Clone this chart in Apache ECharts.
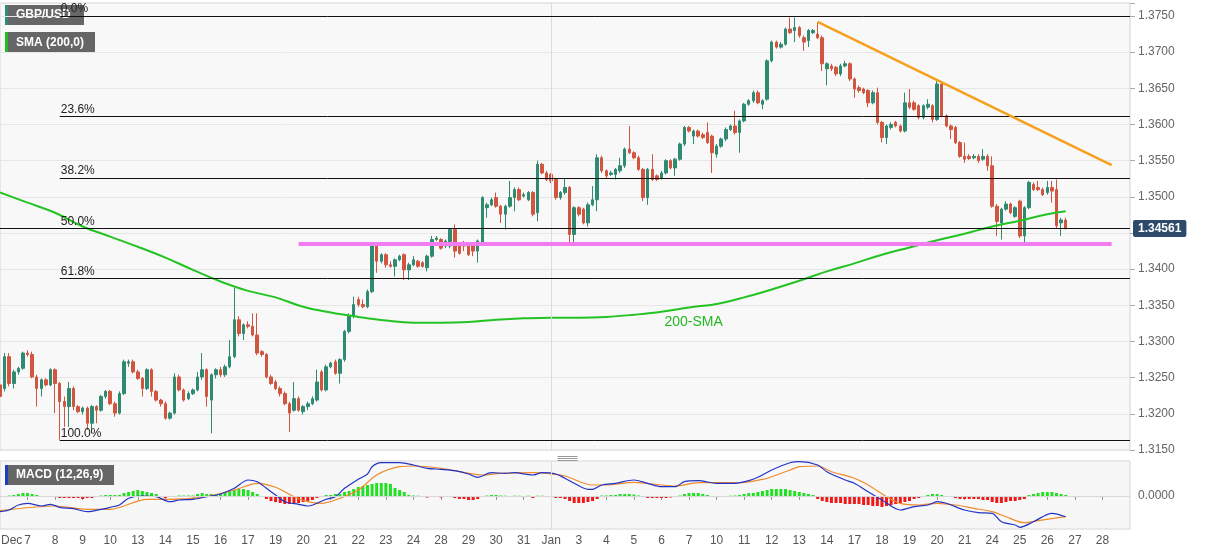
<!DOCTYPE html>
<html><head><meta charset="utf-8">
<script src="https://cdn.jsdelivr.net/npm/echarts/dist/echarts.min.js"></script>
<style>html,body{margin:0;padding:0;background:#fff}#c{width:1207px;height:555px}</style>
</head><body><div id="c"></div>
<script>
// ---- tick labels (one per trading day, 6 four-hour candles per day) ----
const dayLabels = ['7','8','9','10','13','14','15','16','17','19','20','21','22','23','24','28','29','30','31','Jan','3','4','5','6','7','10','11','12','13','14','17','18','19','20','21','24','25','26','27','28'];
const monthLabel = 'Dec';
const candlesPerDay = 6;
const slotCount = 247;

// ---- GBP/USD 4H candles ----
const open = [1.3240,1.3235,1.3279,1.3242,1.3258,1.3263,1.3284,1.3282,1.3251,1.3235,
1.3247,1.3240,1.3261,1.3242,1.3217,1.3210,1.3235,1.3210,1.3203,1.3208,
1.3187,1.3210,1.3205,1.3224,1.3231,1.3214,1.3201,1.3228,1.3270,1.3272,
1.3258,1.3249,1.3235,1.3261,1.3231,1.3219,1.3214,1.3194,1.3201,1.3251,
1.3233,1.3221,1.3228,1.3233,1.3251,1.3261,1.3219,1.3254,1.3261,1.3254,
1.3265,1.3279,1.3330,1.3311,1.3323,1.3321,1.3309,1.3286,1.3282,1.3251,
1.3244,1.3235,1.3228,1.3214,1.3205,1.3221,1.3203,1.3210,1.3214,1.3219,
1.3258,1.3233,1.3265,1.3272,1.3256,1.3275,1.3314,1.3335,1.3358,1.3351,
1.3348,1.3369,1.3434,1.3411,1.3420,1.3406,1.3404,1.3413,1.3420,1.3399,
1.3406,1.3411,1.3409,1.3402,1.3418,1.3441,1.3441,1.3432,1.3432,1.3455,
1.3432,1.3436,1.3434,1.3432,1.3425,1.3436,1.3485,1.3489,1.3499,1.3487,
1.3476,1.3487,1.3499,1.3510,1.3501,1.3496,1.3506,1.3478,1.3545,1.3533,
1.3531,1.3524,1.3499,1.3506,1.3513,1.3448,1.3485,1.3483,1.3464,1.3489,
1.3496,1.3554,1.3536,1.3531,1.3531,1.3536,1.3543,1.3566,1.3561,1.3554,
1.3538,1.3499,1.3538,1.3529,1.3526,1.3533,1.3550,1.3540,1.3552,1.3573,
1.3596,1.3584,1.3591,1.3586,1.3589,1.3584,1.3559,1.3570,1.3580,1.3593,
1.3598,1.3589,1.3605,1.3628,1.3633,1.3644,1.3628,1.3635,1.3688,1.3714,
1.3707,1.3711,1.3732,1.3730,1.3734,1.3720,1.3716,1.3727,1.3725,1.3720,
1.3677,1.3681,1.3679,1.3670,1.3681,1.3684,1.3663,1.3651,1.3649,1.3647,
1.3630,1.3644,1.3603,1.3582,1.3596,1.3603,1.3598,1.3591,1.3630,1.3630,
1.3626,1.3610,1.3624,1.3626,1.3607,1.3656,1.3612,1.3598,1.3596,1.3575,
1.3556,1.3556,1.3554,1.3556,1.3552,1.3556,1.3543,1.3487,1.3464,1.3483,
1.3490,1.3473,1.3494,1.3446,1.3485,1.3517,1.3513,1.3510,1.3506,1.3513,
1.3510,1.3464,1.3468];
const close = [1.3224,1.3279,1.3242,1.3258,1.3263,1.3284,1.3282,1.3251,1.3235,1.3247,
1.3240,1.3261,1.3242,1.3217,1.3210,1.3235,1.3210,1.3203,1.3208,1.3187,
1.3210,1.3205,1.3224,1.3231,1.3214,1.3201,1.3228,1.3272,1.3272,1.3258,
1.3249,1.3235,1.3261,1.3231,1.3219,1.3214,1.3194,1.3201,1.3251,1.3233,
1.3219,1.3228,1.3233,1.3251,1.3261,1.3224,1.3254,1.3261,1.3254,1.3265,
1.3279,1.3330,1.3311,1.3323,1.3321,1.3309,1.3284,1.3282,1.3251,1.3242,
1.3235,1.3228,1.3214,1.3201,1.3221,1.3205,1.3210,1.3214,1.3221,1.3244,
1.3233,1.3265,1.3270,1.3256,1.3275,1.3314,1.3335,1.3351,1.3351,1.3348,
1.3369,1.3434,1.3411,1.3420,1.3406,1.3404,1.3413,1.3418,1.3399,1.3406,
1.3413,1.3404,1.3404,1.3418,1.3441,1.3443,1.3429,1.3439,1.3455,1.3425,
1.3422,1.3432,1.3420,1.3425,1.3439,1.3499,1.3489,1.3496,1.3487,1.3476,
1.3487,1.3499,1.3510,1.3496,1.3503,1.3506,1.3476,1.3545,1.3533,1.3524,
1.3522,1.3499,1.3506,1.3513,1.3448,1.3485,1.3476,1.3464,1.3489,1.3496,
1.3554,1.3536,1.3529,1.3533,1.3538,1.3543,1.3566,1.3561,1.3554,1.3538,
1.3499,1.3538,1.3524,1.3524,1.3533,1.3550,1.3540,1.3552,1.3573,1.3596,
1.3591,1.3591,1.3584,1.3582,1.3575,1.3561,1.3570,1.3580,1.3593,1.3598,
1.3589,1.3605,1.3628,1.3633,1.3644,1.3630,1.3633,1.3688,1.3714,1.3707,
1.3711,1.3732,1.3727,1.3734,1.3723,1.3714,1.3730,1.3730,1.3720,1.3684,
1.3684,1.3677,1.3670,1.3681,1.3684,1.3663,1.3649,1.3647,1.3644,1.3630,
1.3644,1.3603,1.3582,1.3598,1.3600,1.3598,1.3591,1.3630,1.3624,1.3621,
1.3610,1.3626,1.3628,1.3607,1.3656,1.3612,1.3598,1.3593,1.3575,1.3556,
1.3552,1.3553,1.3556,1.3550,1.3556,1.3543,1.3487,1.3466,1.3483,1.3490,
1.3478,1.3485,1.3446,1.3485,1.3520,1.3510,1.3510,1.3503,1.3513,1.3508,
1.3460,1.3468,1.34561];
const low = [1.3221,1.3231,1.3238,1.3235,1.3254,1.3261,1.3279,1.3249,1.3210,1.3224,
1.3238,1.3238,1.3201,1.3164,1.3182,1.3182,1.3205,1.3201,1.3199,1.3178,
1.3173,1.3187,1.3203,1.3221,1.3212,1.3196,1.3199,1.3226,1.3265,1.3256,
1.3247,1.3224,1.3233,1.3224,1.3217,1.3210,1.3192,1.3192,1.3199,1.3231,
1.3217,1.3219,1.3226,1.3231,1.3247,1.3210,1.3173,1.3249,1.3251,1.3251,
1.3263,1.3277,1.3307,1.3302,1.3318,1.3307,1.3281,1.3279,1.3249,1.3240,
1.3233,1.3224,1.3212,1.3175,1.3203,1.3203,1.3199,1.3205,1.3212,1.3217,
1.3231,1.3231,1.3263,1.3254,1.3242,1.3272,1.3311,1.3332,1.3348,1.3346,
1.3346,1.3367,1.3395,1.3408,1.3402,1.3402,1.3390,1.3411,1.3385,1.3385,
1.3404,1.3402,1.3402,1.3397,1.3416,1.3439,1.3427,1.3429,1.3429,1.3416,
1.3420,1.3425,1.3418,1.3418,1.3409,1.3434,1.3471,1.3487,1.3485,1.3464,
1.3455,1.3485,1.3480,1.3494,1.3499,1.3494,1.3473,1.3466,1.3531,1.3522,
1.3519,1.3496,1.3496,1.3503,1.3432,1.3436,1.3473,1.3462,1.3459,1.3487,
1.3480,1.3533,1.3526,1.3529,1.3524,1.3533,1.3540,1.3559,1.3552,1.3536,
1.3494,1.3489,1.3522,1.3522,1.3524,1.3531,1.3538,1.3529,1.3550,1.3570,
1.3589,1.3573,1.3582,1.3580,1.3573,1.3533,1.3554,1.3568,1.3577,1.3591,
1.3586,1.3561,1.3603,1.3626,1.3630,1.3628,1.3621,1.3633,1.3686,1.3705,
1.3705,1.3709,1.3725,1.3714,1.3720,1.3702,1.3707,1.3725,1.3718,1.3674,
1.3654,1.3674,1.3667,1.3667,1.3679,1.3660,1.3637,1.3644,1.3642,1.3624,
1.3628,1.3600,1.3575,1.3573,1.3593,1.3596,1.3589,1.3589,1.3621,1.3619,
1.3607,1.3607,1.3621,1.3603,1.3605,1.3610,1.3596,1.3580,1.3573,1.3554,
1.3547,1.3551,1.3552,1.3547,1.3550,1.3536,1.3485,1.3446,1.3441,1.3481,
1.3476,1.3471,1.3443,1.3436,1.3483,1.3508,1.3508,1.3501,1.3503,1.3492,
1.3457,1.3446,1.3455];
const high = [1.3247,1.3284,1.3284,1.3261,1.3265,1.3286,1.3288,1.3286,1.3254,1.3249,
1.3249,1.3263,1.3263,1.3244,1.3224,1.3244,1.3238,1.3212,1.3210,1.3210,
1.3212,1.3212,1.3226,1.3233,1.3233,1.3217,1.3231,1.3275,1.3275,1.3275,
1.3261,1.3251,1.3263,1.3263,1.3233,1.3221,1.3217,1.3203,1.3256,1.3254,
1.3235,1.3231,1.3235,1.3258,1.3284,1.3263,1.3256,1.3263,1.3265,1.3268,
1.3302,1.3374,1.3335,1.3325,1.3328,1.3339,1.3339,1.3288,1.3284,1.3254,
1.3247,1.3238,1.3231,1.3217,1.3244,1.3224,1.3212,1.3217,1.3224,1.3261,
1.3261,1.3268,1.3272,1.3275,1.3277,1.3316,1.3339,1.3362,1.3362,1.3358,
1.3372,1.3436,1.3436,1.3422,1.3422,1.3411,1.3415,1.3420,1.3422,1.3409,
1.3418,1.3413,1.3411,1.3420,1.3446,1.3446,1.3443,1.3441,1.3457,1.3462,
1.3434,1.3439,1.3436,1.3434,1.3441,1.3501,1.3492,1.3499,1.3506,1.3489,
1.3489,1.3522,1.3513,1.3513,1.3506,1.3508,1.3508,1.3550,1.3547,1.3536,
1.3533,1.3526,1.3508,1.3526,1.3515,1.3487,1.3487,1.3485,1.3492,1.3515,
1.3559,1.3557,1.3538,1.3536,1.3540,1.3554,1.3568,1.3598,1.3563,1.3557,
1.3540,1.3540,1.3559,1.3531,1.3536,1.3552,1.3552,1.3554,1.3575,1.3598,
1.3598,1.3593,1.3593,1.3589,1.3603,1.3586,1.3573,1.3582,1.3596,1.3600,
1.3619,1.3607,1.3630,1.3635,1.3647,1.3647,1.3635,1.3690,1.3716,1.3716,
1.3714,1.3734,1.3748,1.3748,1.3736,1.3723,1.3732,1.3732,1.3741,1.3723,
1.3686,1.3684,1.3681,1.3684,1.3688,1.3686,1.3665,1.3654,1.3651,1.3649,
1.3647,1.3651,1.3605,1.3600,1.3603,1.3605,1.3600,1.3644,1.3649,1.3633,
1.3628,1.3628,1.3635,1.3628,1.3660,1.3658,1.3614,1.3600,1.3598,1.3577,
1.3575,1.3559,1.3559,1.3559,1.3566,1.3559,1.3556,1.3490,1.3485,1.3494,
1.3492,1.3487,1.3496,1.3487,1.3522,1.3520,1.3522,1.3513,1.3522,1.3522,
1.3524,1.3471,1.3471];

// ---- 200-period SMA, read as [candle index, value] ----
const sma200 = [[0,1.3506],[6,1.3492],[12,1.3478],[18,1.3459],[24,1.3445],[30,1.3431],[36,1.3416],[42,1.3399],[48,1.3383],[54,1.3370],[60,1.3361],[66,1.3348],[72,1.3340],[78,1.3334],[84,1.3329],[90,1.3326],[96,1.3326],[102,1.3327],[108,1.3330],[114,1.3332],[120,1.3333],[126,1.3333],[132,1.3334],[138,1.3337],[144,1.3341],[150,1.3347],[156,1.3352],[162,1.3361],[168,1.3372],[174,1.3384],[180,1.3397],[186,1.3408],[192,1.3420],[198,1.3430],[204,1.3440],[210,1.3449],[216,1.3459],[222,1.3467],[228,1.3476],[232,1.3480]];

// ---- levels ----
const fibNames = ['0.0%','23.6%','38.2%','50.0%','61.8%','100.0%'];
const fibPrices = [1.3750,1.3611,1.3526,1.34565,1.3387,1.3163];
const fibStartIndex = 13;
const lastPrice = 1.34561;
const supportPrice = 1.34355, supportFrom = 65, supportTo = 242;
const trendFrom = [178, 1.3742], trendTo = [242, 1.3544];
const janIndex = 120;
const smaLabelAt = [151, 1.3327];

// ---- MACD (12,26,9) ----
const macdLine = [[0,-0.00157],[2,-0.0014],[4,-0.0009],[6,-0.00073],[9,-0.001],[11,-0.00083],[13,-0.00113],[16,-0.00127],[19,-0.00157],[22,-0.00133],[24,-0.00113],[26,-0.0009],[28,-0.00023],[31,0],[34,-0.00007],[37,-0.00057],[39,-0.0004],[42,-0.00033],[45,-0.00007],[48,0.0002],[51,0.00077],[54,0.0016],[56,0.00143],[58,0.00077],[60,0.0001],[62,-0.00057],[65,-0.00083],[67,-0.001],[69,-0.00073],[71,-0.00033],[73,-0.00007],[75,0.00077],[78,0.00167],[80,0.0022],[81,0.00293],[83,0.00333],[87,0.00333],
[90,0.0031],[93,0.00277],[96,0.00267],[99,0.00253],[102,0.0022],[104,0.00187],[107,0.00233],[110,0.00227],[112,0.00233],[116,0.0021],[118,0.00233],[121,0.0022],[123,0.00177],[125,0.00127],[128,0.00067],[129,0.00067],[131,0.0011],[134,0.00127],[138,0.0016],[141,0.00127],[144,0.00093],[147,0.00093],[149,0.00143],[152,0.00153],[156,0.00127],[160,0.00127],[163,0.00153],[165,0.00187],[168,0.0026],[172,0.00333],[174,0.00343],
[178,0.0031],[180,0.00243],[184,0.0016],[186,0.00127],[189,0.00043],[192,-0.0004],[196,-0.0014],[199,-0.00107],[202,-0.0009],[204,-0.00057],[206,-0.00073],[210,-0.0014],[213,-0.00167],[216,-0.00173],[218,-0.00257],[221,-0.0029],[222,-0.00313],[225,-0.00257],[229,-0.00173],[232,-0.00207]];
const signalLine = [[0,-0.00147],[12,-0.001],[19,-0.00133],[24,-0.00133],[32,-0.00033],[36,-0.00033],[44,-0.00013],[51,0.0006],[56,0.00127],[60,0.00087],[64,-0.00007],[67,-0.00057],[70,-0.00073],[73,-0.0004],[78,0.0006],[82,0.0021],[87,0.00293],
[90,0.003],[96,0.00277],[102,0.00227],[105,0.0021],[109,0.00227],[116,0.00233],[119,0.00227],[123,0.002],[129,0.0011],[132,0.0011],[138,0.00137],[142,0.0012],[147,0.001],[152,0.00133],[157,0.00133],[161,0.00133],[166,0.00167],[168,0.00193],[172,0.0026],[174,0.00293],
[178,0.003],[181,0.00243],[186,0.00177],[189,0.0011],[193,-0.00007],[196,-0.00073],[200,-0.0009],[204,-0.00073],[208,-0.0009],[212,-0.00123],[216,-0.00157],[219,-0.00207],[223,-0.00267],[226,-0.00247],[232,-0.00207]];
const macdHist = [-0.0001,-0.00005,0.00005,0.0001,0.0002,0.0003,0.0003,0.0002,0.0001,-0.0001,
-0.0001,-0.0001,-0.0001,-0.0002,-0.0002,-0.0002,-0.0002,-0.0002,-0.0003,-0.0002,
-0.0002,-0.0001,0.00005,0.0001,0.0001,0.0001,0.0001,0.0003,0.0004,0.0005,
0.0006,0.0005,0.0004,0.0003,0.0002,-0.0001,-0.0002,-0.0001,-0.00005,0.00005,
0.00005,0.00005,0.00005,0.0002,0.0003,0.0002,0.0002,0.0002,0.0003,0.0004,
0.0005,0.0006,0.0007,0.0007,0.0006,0.0004,0.0002,-0.0001,-0.0003,-0.0005,
-0.0006,-0.0007,-0.0008,-0.0008,-0.0007,-0.0007,-0.0006,-0.0005,-0.0004,-0.0002,
-0.0001,0.0001,0.0001,0.0002,0.0002,0.0004,0.0005,0.0007,0.0009,0.001,
0.0011,0.0012,0.0013,0.0013,0.0013,0.0012,0.0008,0.0006,0.0004,0.0001,
0.00005,0.00003,-0.0001,-0.00015,-0.0001,-0.0001,-0.00015,-0.0001,-0.0001,-0.0002,
-0.0003,-0.0003,-0.0004,-0.0004,-0.0003,-0.0001,0.00005,0.0001,0.0001,0.00005,
0.00003,-0.00003,0.00003,0.00003,-0.00003,0.00003,-0.0002,0.00003,0.00003,-0.00003,
-0.00003,-0.0002,-0.0002,-0.0003,-0.0005,-0.0007,-0.0007,-0.0007,-0.0006,-0.0005,
-0.0003,0.00005,0.00005,0.0001,0.0001,0.0002,0.0002,0.0002,0.00015,0.00005,
-0.0001,-0.0002,-0.0002,-0.0002,-0.0002,-0.0002,-0.00015,-0.0001,0.00005,0.0002,
0.0003,0.0003,0.0003,0.0002,0.0001,-0.00005,-0.0001,-0.0001,-0.00005,0.00003,
0.00005,0.0001,0.0002,0.0003,0.0003,0.0004,0.0005,0.0006,0.0007,0.0007,
0.0007,0.0007,0.0006,0.0005,0.0004,0.0003,0.0002,0.0001,-0.0003,-0.0005,
-0.0006,-0.0007,-0.0007,-0.0007,-0.0008,-0.0008,-0.0008,-0.0008,-0.0009,-0.0009,
-0.001,-0.001,-0.0011,-0.001,-0.0009,-0.0008,-0.0007,-0.0006,-0.0005,-0.0003,
-0.0002,-0.0001,0.0001,0.0002,0.0002,0.0001,-0.00005,-0.0001,-0.0002,-0.0003,
-0.0003,-0.0003,-0.0003,-0.0003,-0.0004,-0.0004,-0.0006,-0.0007,-0.0007,-0.0006,
-0.0005,-0.0005,-0.0004,-0.0003,0.0001,0.0002,0.0003,0.0004,0.0004,0.0004,
0.0003,0.0002,0.0001];

// ---- build ----
const FONT = '"Liberation Sans", Arial, Helvetica, sans-serif';
const UP = '#2f8a72', DOWN = '#d2553f';
const cats = Array.from({length: slotCount}, (_, i) => String(i));
const labelAt = {};
dayLabels.forEach((d, k) => { labelAt[candlesPerDay * (k + 1)] = d; });
const ohlc = open.map((o, i) => [o, close[i], low[i], high[i]]);
const hist = macdHist.map(v => ({ value: v, itemStyle: { color: v >= 0 ? '#22e022' : '#f01818' } }));
const lastIdx = slotCount - 1;

const fibLines = fibPrices.map((p, k) => [
  { coord: [fibStartIndex, p], lineStyle: { color: '#111', width: 1, type: 'solid' },
    label: { show: true, position: 'insideStartTop', formatter: fibNames[k], color: '#222', fontSize: 12, fontFamily: FONT, distance: 1, padding: 0 } },
  { coord: [lastIdx, p] }
]);

const showLabel = (i) => labelAt[i] !== undefined;

const chart = echarts.init(document.getElementById('c'), null, { renderer: 'canvas' });
chart.setOption({
  animation: false,
  backgroundColor: '#ffffff',
  textStyle: { fontFamily: FONT },
  grid: [
    { left: 0, top: 3, width: 1130, height: 447, show: true, backgroundColor: '#f8f8f8', borderColor: '#d3d3dd', borderWidth: 1, containLabel: false, outerBoundsMode: 'none' },
    { left: 0, top: 461, width: 1130, height: 68, show: true, backgroundColor: '#f7f7f7', borderColor: '#d3d3dd', borderWidth: 1, containLabel: false, outerBoundsMode: 'none' }
  ],
  xAxis: [
    { type: 'category', gridIndex: 0, data: cats, boundaryGap: false,
      axisLine: { show: false }, axisTick: { show: false }, axisLabel: { show: false }, splitLine: { show: false } },
    { type: 'category', gridIndex: 1, data: cats, boundaryGap: false,
      axisLine: { show: false },
      axisTick: { show: true, interval: showLabel, length: 4, lineStyle: { color: '#999' } },
      axisLabel: { show: true, interval: showLabel, formatter: (v) => labelAt[+v] || '', color: '#555', fontSize: 12, margin: 6, fontFamily: FONT },
      splitLine: { show: false } }
  ],
  yAxis: [
    { type: 'value', gridIndex: 0, position: 'right', min: 1.3150, max: 1.3768, interval: 0.005, scale: true,
      axisLine: { show: false },
      axisTick: { show: true, length: 5, lineStyle: { color: '#aaa' } },
      axisLabel: { color: '#666', fontSize: 12, margin: 8, fontFamily: FONT,
        formatter: (v) => Math.abs(v * 200 - Math.round(v * 200)) < 1e-6 ? v.toFixed(4) : '' },
      splitLine: { show: true, lineStyle: { color: '#e6e6e6', width: 1 } } },
    { type: 'value', gridIndex: 1, position: 'right', min: -0.0033, max: 0.0035, interval: 0.0011,
      axisLine: { show: false }, axisTick: { show: false },
      axisLabel: { color: '#666', fontSize: 12, margin: 8, fontFamily: FONT,
        formatter: (v) => Math.abs(v) < 1e-9 ? '0.0000' : '' },
      splitLine: { show: false } }
  ],
  series: [
    { type: 'candlestick', name: 'GBP/USD', xAxisIndex: 0, yAxisIndex: 0, data: ohlc, barWidth: 3,
      itemStyle: { color: UP, color0: DOWN, borderColor: UP, borderColor0: DOWN, borderWidth: 1 },
      markLine: { silent: true, symbol: ['none', 'none'], animation: false, precision: 5,
        data: [
          { xAxis: janIndex, lineStyle: { color: '#dcdcdc', width: 1, type: 'solid' }, label: { show: false } },
          ...fibLines,
          [ { coord: [0, lastPrice], lineStyle: { color: '#111', width: 1, type: 'solid' },
              label: { show: true, position: 'end', formatter: lastPrice.toFixed(5), backgroundColor: '#2d4a6b', color: '#fff', fontWeight: 'bold', fontSize: 12, fontFamily: FONT, padding: [3, 5, 2, 5], borderRadius: 2, distance: 3 } },
            { coord: [lastIdx, lastPrice] } ],
          [ { coord: [supportFrom, supportPrice], lineStyle: { color: '#f07cf0', width: 4, type: 'solid' }, label: { show: false } },
            { coord: [supportTo, supportPrice] } ],
          [ { coord: trendFrom, lineStyle: { color: '#f5a11c', width: 2.5, type: 'solid' }, label: { show: false } },
            { coord: trendTo } ]
        ] } },
    { type: 'line', name: 'SMA (200,0)', xAxisIndex: 0, yAxisIndex: 0, data: sma200, smooth: 0.4, showSymbol: false,
      lineStyle: { color: '#22c322', width: 2 }, z: 4,
      markPoint: { silent: true, symbol: 'circle', symbolSize: 0, animation: false,
        data: [ { coord: smaLabelAt, label: { show: true, formatter: '200-SMA', color: '#22b822', fontSize: 14, fontFamily: FONT } } ] } },
    { type: 'bar', name: 'hist', xAxisIndex: 1, yAxisIndex: 1, data: hist, barWidth: 3,
      markLine: { silent: true, symbol: ['none', 'none'], animation: false, label: { show: false },
        data: [ { yAxis: 0, lineStyle: { color: '#d8d8d8', width: 1, type: 'solid' } },
                { xAxis: janIndex, lineStyle: { color: '#dcdcdc', width: 1, type: 'solid' } } ] } },
    { type: 'line', name: 'MACD', xAxisIndex: 1, yAxisIndex: 1, data: macdLine, smooth: 0.3, showSymbol: false,
      lineStyle: { color: '#2234c8', width: 1.2 }, z: 4 },
    { type: 'line', name: 'Signal', xAxisIndex: 1, yAxisIndex: 1, data: signalLine, smooth: 0.3, showSymbol: false,
      lineStyle: { color: '#f08a2a', width: 1.2 }, z: 3 }
  ],
  graphic: [
    { type: 'group', left: 5, top: 5, z: 1, children: [
      { type: 'rect', shape: { x: 0, y: 0, width: 79, height: 20 }, style: { fill: 'rgba(85,85,85,0.9)' } },
      { type: 'rect', shape: { x: 0, y: 0, width: 3, height: 20 }, style: { fill: '#338877' } },
      { type: 'text', x: 11, y: 10, style: { text: 'GBP/USD', fill: '#fff', font: 'bold 12px ' + FONT, textVerticalAlign: 'middle', verticalAlign: 'middle' } } ] },
    { type: 'group', left: 5, top: 32, z: 1, children: [
      { type: 'rect', shape: { x: 0, y: 0, width: 90, height: 21 }, style: { fill: 'rgba(85,85,85,0.9)' } },
      { type: 'rect', shape: { x: 0, y: 0, width: 3, height: 21 }, style: { fill: '#22bb22' } },
      { type: 'text', x: 11, y: 10.5, style: { text: 'SMA (200,0)', fill: '#fff', font: 'bold 12px ' + FONT, textVerticalAlign: 'middle', verticalAlign: 'middle' } } ] },
    { type: 'group', left: 5, top: 465, z: 1, children: [
      { type: 'rect', shape: { x: 0, y: 0, width: 109, height: 20 }, style: { fill: 'rgba(85,85,85,0.9)' } },
      { type: 'rect', shape: { x: 0, y: 0, width: 3, height: 20 }, style: { fill: '#1c3fc0' } },
      { type: 'text', x: 11, y: 10, style: { text: 'MACD (12,26,9)', fill: '#fff', font: 'bold 12px ' + FONT, textVerticalAlign: 'middle', verticalAlign: 'middle' } } ] },
    { type: 'group', left: 555, top: 454, z: 1, children: [
      { type: 'line', shape: { x1: 0, y1: 0.5, x2: 20, y2: 0.5 }, style: { stroke: '#999', lineWidth: 1 } },
      { type: 'line', shape: { x1: 0, y1: 2.5, x2: 20, y2: 2.5 }, style: { stroke: '#999', lineWidth: 1 } },
      { type: 'line', shape: { x1: 0, y1: 4.5, x2: 20, y2: 4.5 }, style: { stroke: '#999', lineWidth: 1 } } ] },
    { type: 'text', left: 1, top: 535, z: 1, style: { text: monthLabel, fill: '#555', font: '12px ' + FONT } }
  ]
});
</script>
</body></html>
